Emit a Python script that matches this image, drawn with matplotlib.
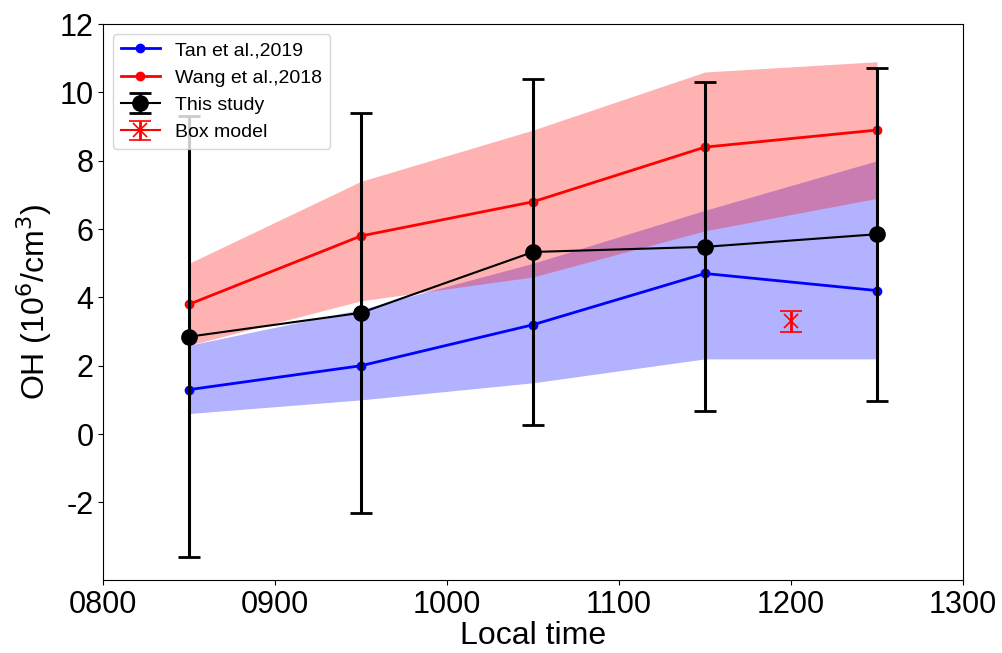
import matplotlib
matplotlib.use("Agg")
import matplotlib.pyplot as plt

plt.rcParams["font.family"] = ["Liberation Sans", "DejaVu Sans"]
plt.rcParams["axes.unicode_minus"] = False

# local time in hours
hours = [8.5, 9.5, 10.5, 11.5, 12.5]

tan_mean = [1.3, 2.0, 3.2, 4.7, 4.2]
tan_low = [0.6, 1.0, 1.5, 2.2, 2.2]
tan_high = [2.6, 3.65, 5.0, 6.55, 8.0]

wang_mean = [3.8, 5.8, 6.8, 8.4, 8.9]
wang_low = [2.6, 3.9, 4.6, 5.95, 6.9]
wang_high = [5.0, 7.4, 8.9, 10.6, 10.9]

study_mean = [2.85, 3.55, 5.33, 5.48, 5.85]
study_err = [6.45, 5.85, 5.07, 4.82, 4.87]

box_time = [12.0]
box_mean = [3.3]
box_err = [0.3]

xtick_vals = [8, 9, 10, 11, 12, 13]
xtick_labels = ["0800", "0900", "1000", "1100", "1200", "1300"]
ytick_vals = [-2, 0, 2, 4, 6, 8, 10, 12]

fig = plt.figure(figsize=(10.02, 6.53), dpi=100)
ax = fig.add_axes([0.103, 0.112, 0.858, 0.851])

ax.fill_between(hours, tan_low, tan_high, color="blue", alpha=0.3, linewidth=0)
ax.fill_between(hours, wang_low, wang_high, color="red", alpha=0.3, linewidth=0)

ax.plot(hours, tan_mean, "-o", color="blue", lw=2, ms=6, label="Tan et al.,2019")
ax.plot(hours, wang_mean, "-o", color="red", lw=2, ms=6, label="Wang et al.,2018")
ax.errorbar(hours, study_mean, yerr=study_err, fmt="-o", color="black", lw=1.5,
            elinewidth=2.2, ms=11, capsize=8, capthick=2, label="This study")
ax.errorbar(box_time, box_mean, yerr=box_err, fmt="-x", color="red", ms=10, lw=1.5,
            mew=1.2, elinewidth=2, capsize=8, capthick=1.5, label="Box model")

ax.set_xlim(8, 13)
ax.set_ylim(-4.27, 12)
ax.set_xticks(xtick_vals)
ax.set_xticklabels(xtick_labels)
ax.set_yticks(ytick_vals)
ax.tick_params(labelsize=22)
ax.set_xlabel("Local time", fontsize=23, labelpad=1)
ax.set_ylabel("OH (10$^6$/cm$^3$)", fontsize=23)

ax.legend(loc="upper left", fontsize=14)

fig.savefig("out.png", dpi=100)
